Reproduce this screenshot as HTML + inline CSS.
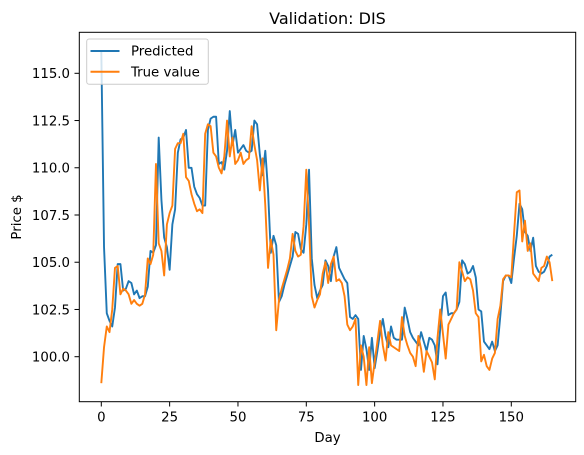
<!DOCTYPE html>
<html><head><meta charset="utf-8"><style>
html,body{margin:0;padding:0;background:#fff;}
svg{display:block;font-family:"DejaVu Sans","Liberation Sans",sans-serif;}
</style></head><body>
<svg id="chart" width="584" height="455" viewBox="0 0 584 455" xmlns="http://www.w3.org/2000/svg">
<text x="327.5" y="24" font-size="16" text-anchor="middle" fill="#000">Validation: DIS</text>
<g id="plot"></g>
<rect x="79.3" y="32.3" width="496.4" height="369.4" fill="none" stroke="#000" stroke-width="1"/>
<g id="xticks"></g>
<g id="yticks"></g>
<text x="327.5" y="442" font-size="13.3" text-anchor="middle">Day</text>
<text transform="translate(21,217) rotate(-90)" font-size="13.3" text-anchor="middle">Price $</text>
<g>
<rect x="86.7" y="39" width="121.6" height="45.3" rx="2.5" fill="#fff" fill-opacity="0.8" stroke="#ccc" stroke-width="1"/>
<line x1="90.5" y1="51" x2="119.5" y2="51" stroke="#1f77b4" stroke-width="2"/>
<text x="131" y="55.5" font-size="13.3">Predicted</text>
<line x1="90.5" y1="71.7" x2="119.5" y2="71.7" stroke="#ff7f0e" stroke-width="2"/>
<text x="131" y="76.3" font-size="13.3">True value</text>
</g>
</svg>
<script>
const trueValues = [98.6,100.5,101.6,101.3,102.5,104.7,104.8,103.3,103.6,103.5,103.3,102.8,103.0,102.8,102.7,102.8,103.3,105.2,104.9,105.4,110.2,106.0,105.6,104.3,107.0,107.6,108.0,111.0,111.3,111.3,111.8,109.5,109.3,108.6,108.1,107.7,107.8,107.6,111.8,112.3,112.2,110.8,110.6,110.0,109.7,110.6,112.5,110.6,111.6,110.2,110.4,110.8,110.2,110.4,110.5,112.2,111.2,110.4,108.8,110.5,108.0,104.7,106.2,105.4,101.4,103.0,103.6,104.1,104.6,105.2,106.5,105.6,105.3,105.4,106.9,109.9,107.0,103.2,102.6,103.0,103.3,104.4,105.0,103.9,104.9,105.3,104.0,104.1,103.9,103.2,101.7,101.4,101.6,102.0,98.5,100.6,100.0,98.5,100.5,98.6,99.7,100.8,101.9,100.6,99.8,101.3,100.6,100.5,100.4,100.3,102.1,101.1,100.6,100.2,100.0,99.5,101.1,100.4,99.2,100.3,100.0,99.7,98.8,101.0,102.5,101.2,99.9,101.7,102.0,102.3,102.5,105.0,104.5,104.0,104.2,104.1,103.5,102.3,102.1,99.75,100.1,99.5,99.3,99.9,100.2,102.0,102.7,104.1,104.3,104.3,104.2,106.5,108.7,108.8,106.1,107.2,105.6,106.0,104.4,104.2,104.0,104.7,104.8,105.3,105.0,104.0];
const predictedValues = [116.2,105.8,102.3,101.9,101.6,102.6,104.9,104.9,103.5,103.6,104.0,103.9,103.3,103.5,103.1,103.2,103.2,103.7,105.6,105.5,105.9,111.6,108.3,106.3,105.8,104.6,107.0,107.8,110.8,111.5,111.6,112.0,110.0,110.0,109.0,108.6,108.4,108.0,108.0,112.0,112.6,112.7,112.7,110.2,110.3,109.9,110.9,113.0,111.2,112.0,110.8,111.0,111.2,110.9,110.8,110.9,112.5,112.3,110.7,109.6,110.9,108.8,105.5,106.4,105.9,102.9,103.2,103.8,104.3,104.8,105.3,106.6,106.5,105.7,105.5,107.0,109.9,105.2,103.8,103.1,103.5,103.8,105.1,104.8,104.0,105.3,105.8,104.7,104.4,104.1,103.9,102.1,102.0,102.2,102.0,99.3,101.1,100.4,99.3,101.0,99.4,100.3,101.3,102.0,101.1,100.5,101.6,101.0,100.9,100.9,100.9,102.6,102.0,101.3,101.0,100.8,100.6,101.3,100.8,100.3,101.0,100.9,100.6,99.6,101.5,103.2,103.4,102.2,102.3,102.3,102.5,102.9,105.1,104.9,104.4,104.5,104.8,104.2,102.5,102.4,100.8,100.6,100.4,100.8,100.3,100.6,102.2,104.0,104.3,104.3,103.9,105.2,106.4,108.1,107.8,106.6,106.4,105.6,106.3,104.8,104.5,104.4,104.5,104.8,105.3,105.4];
const xTickValues = [0,25,50,75,100,125,150];
const yTickValues = [100,102.5,105,107.5,110,112.5,115];
const yTickLabels = ["100.0","102.5","105.0","107.5","110.0","112.5","115.0"];

const NS = "http://www.w3.org/2000/svg";
function xScale(d){ return 101.3 + (d - 0) * (511.3 - 101.3) / 150; }
function yScale(v){ return 356.7 - (v - 100) * (356.7 - 73.3) / 15; }

const plot = document.getElementById('plot');
function drawSeries(vals, color, name){
  const p = document.createElementNS(NS,'polyline');
  p.setAttribute('points', vals.map((v,i)=>xScale(i).toFixed(2)+','+yScale(v).toFixed(2)).join(' '));
  p.setAttribute('fill','none');
  p.setAttribute('stroke',color);
  p.setAttribute('stroke-width','1.9');
  p.setAttribute('stroke-linejoin','round');
  
  
  plot.appendChild(p);
}
drawSeries(predictedValues,'#1f77b4','predicted-line');
drawSeries(trueValues,'#ff7f0e','true-value-line');

const xg = document.getElementById('xticks');
xTickValues.forEach(t=>{
  const x = xScale(t);
  const l = document.createElementNS(NS,'line');
  l.setAttribute('x1',x); l.setAttribute('x2',x); l.setAttribute('y1',401.7); l.setAttribute('y2',406.5);
  l.setAttribute('stroke','#000');
  
  
  xg.appendChild(l);
  const tx = document.createElementNS(NS,'text');
  tx.setAttribute('x',x); tx.setAttribute('y',421.5);
  tx.setAttribute('font-size','13.3'); tx.setAttribute('text-anchor','middle');
  tx.textContent = String(t);
  
  
  xg.appendChild(tx);
});
const yg = document.getElementById('yticks');
yTickValues.forEach((t,i)=>{
  const y = yScale(t);
  const l = document.createElementNS(NS,'line');
  l.setAttribute('x1',74.5); l.setAttribute('x2',79.3); l.setAttribute('y1',y); l.setAttribute('y2',y);
  l.setAttribute('stroke','#000');
  
  
  yg.appendChild(l);
  const tx = document.createElementNS(NS,'text');
  tx.setAttribute('x',70); tx.setAttribute('y',y+4.8);
  tx.setAttribute('font-size','13.3'); tx.setAttribute('text-anchor','end');
  tx.textContent = yTickLabels[i];
  
  
  yg.appendChild(tx);
});
</script>
</body></html>
